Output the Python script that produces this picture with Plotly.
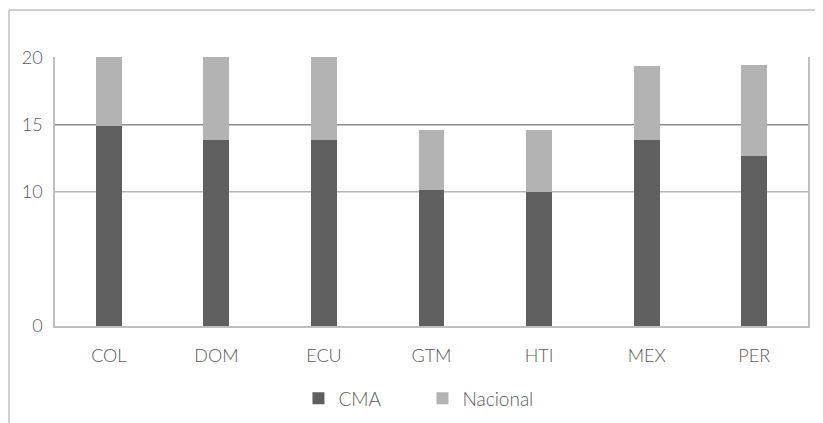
import plotly.graph_objects as go

categories = ["COL", "DOM", "ECU", "GTM", "HTI", "MEX", "PER"]
cma = [14.9, 13.86, 13.86, 10.1, 10.0, 13.86, 12.66]
nacional = [5.15, 6.24, 6.24, 4.5, 4.6, 5.54, 6.79]
y_ticks = [0, 10, 15, 20]
grid_values = [10, 15]
grid_colors = ["#b8b8b8", "#8a8a8a"]

FONT = "Lato, 'Open Sans', sans-serif"
TXT = "#595959"

fig = go.Figure()
fig.add_trace(go.Bar(x=categories, y=cma, name="CMA", marker=dict(color="#5f5f5f", line=dict(width=0))))
fig.add_trace(go.Bar(x=categories, y=nacional, name="Nacional", marker=dict(color="#b2b3b2", line=dict(width=0))))

W, H = 823, 423
L, R, T, B = 47, 23, 49, 105.3
pw = W - L - R
ph = H - T - B
y0px = H - B  # pixel row of the plot bottom

shapes = []
for v, c in zip(grid_values, grid_colors):
    shapes.append(dict(type="line", xref="paper", yref="y", x0=0, x1=1, y0=v, y1=v,
                       line=dict(color=c, width=1.5), layer="below"))
# outer chart frame (partially visible)
fx = (1 - L) / pw
fy = (y0px - 2) / ph
fyb = (y0px - 440) / ph
shapes.append(dict(type="line", xref="paper", yref="paper", x0=fx, x1=fx, y0=fyb, y1=fy,
                   line=dict(color="#c0c0c0", width=1.5)))
shapes.append(dict(type="line", xref="paper", yref="paper", x0=fx, x1=(W + 20 - L) / pw, y0=fy, y1=fy,
                   line=dict(color="#c0c0c0", width=1.5)))

fig.update_layout(
    width=W, height=H,
    margin=dict(l=L, r=R, t=T, b=B, autoexpand=False),
    barmode="stack", bargap=0.76,
    plot_bgcolor="white", paper_bgcolor="white",
    font=dict(family=FONT, color=TXT, size=17, weight=300),
    shapes=shapes,
    legend=dict(orientation="h", x=0.488, xanchor="center", y=(y0px - 390) / ph, yanchor="middle",
                font=dict(size=19, color=TXT, weight=300), itemwidth=30, entrywidth=79,
                entrywidthmode="pixels", traceorder="normal"),
    xaxis=dict(showline=True, linecolor="#bfbfbf", linewidth=1.5, showgrid=False,
               ticks="", tickfont=dict(size=18, color=TXT, weight=300), ticklabelstandoff=13),
    yaxis=dict(range=[0, 20.05], tickvals=y_ticks, showgrid=False, zeroline=False,
               showline=True, mirror=True, linecolor="#bfbfbf", linewidth=1.5,
               ticks="", tickfont=dict(size=18, color=TXT, weight=300), ticklabelstandoff=7),
)

fig.write_html("out.html")
